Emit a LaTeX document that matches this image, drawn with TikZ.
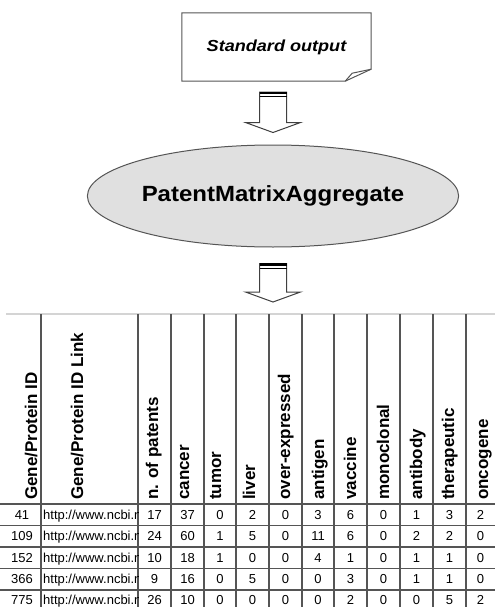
\documentclass[tikz,border=0pt]{standalone}
\usepackage{fontspec}
\setmainfont{Liberation Sans}
\usetikzlibrary{shapes.geometric,calc}
\definecolor{linegray}{RGB}{85,85,85}
\definecolor{ellfill}{RGB}{224,224,224}
\definecolor{topgray}{RGB}{212,212,212}
\tikzset{
  docline/.style={draw=linegray, line width=1pt},
  procnode/.style={ellipse, draw=linegray, line width=1pt, fill=ellfill,
    minimum width=352pt, minimum height=102pt, inner sep=0pt},
  arrowline/.style={draw=black!75, line width=1pt, fill=white},
  hdr/.style={rotate=90, anchor=west, inner sep=0pt,
    font=\fontsize{17}{20}\selectfont\bfseries, text height=12.2pt, text depth=0pt},
  cell/.style={inner sep=0pt, font=\fontsize{13}{15}\selectfont, text height=9.4pt, text depth=0pt},
  gridline/.style={draw=linegray, line width=1.8pt},
}
\newcommand\blockarrow[2]{%
  \draw[arrowline] let \p1=(#1), \p2=(#2) in
    (\x1-13.5pt,\y1) -- (\x1-13.5pt,\y2+10pt) -- (\x1-27.5pt,\y2+10pt) --
    (\x1,\y2) -- (\x1+27.5pt,\y2+10pt) -- (\x1+13.5pt,\y2+10pt) --
    (\x1+13.5pt,\y1) -- cycle;
  \draw[line width=2.2pt] let \p1=(#1) in (\x1-13.5pt,\y1-1pt) -- (\x1+13.5pt,\y1-1pt);
  \draw[line width=0.8pt] let \p1=(#1) in (\x1-13.5pt,\y1-4.5pt) -- (\x1+13.5pt,\y1-4.5pt);
}
\begin{document}
\begin{tikzpicture}[x=1pt,y=-1pt]
\useasboundingbox (0,0) rectangle (495,607);
\fill[white] (0,0) rectangle (495,607);
\clip (0,0) rectangle (495,607);

% document box with folded corner
\node[minimum width=189pt, minimum height=68pt, inner sep=0pt] (doc) at (276.5,47)
  {\scalebox{1.13}[1]{\fontsize{16}{19}\selectfont\bfseries\itshape Standard output}};
\draw[docline] (doc.north west) -- (doc.north east) -- ($(doc.south east)+(0,-12)$)
  -- ($(doc.south east)+(-26,0)$) -- (doc.south west) -- cycle;
\draw[docline] ($(doc.south east)+(-26,0)$) -- ($(doc.south east)+(-19,-8)$)
  -- ($(doc.south east)+(0,-12)$);

% process ellipse
\node[procnode] (proc) at (273,196)
  {\scalebox{1.09}[1]{\fontsize{22}{26}\selectfont\bfseries PatentMatrixAggregate}};

% table anchor
\coordinate (tabtop) at (273,314);

% block arrows
\coordinate (a1top) at ($(doc.south -| proc.center)+(0,11)$);
\coordinate (a1tip) at ($(proc.north)+(0,-12)$);
\coordinate (a2top) at ($(proc.south)+(0,16)$);
\coordinate (a2tip) at ($(tabtop)+(0,-12)$);
\blockarrow{a1top}{a1tip}
\blockarrow{a2top}{a2tip}

% table grid
\draw[draw=topgray, line width=1.5pt] (6,314) -- (495,314);
\foreach \xx in {41,138,171,204,236,269,302,334,367,400,433,466}
  \draw[gridline] (\xx,314) -- (\xx,607);
\foreach \yy in {504,525.5,547,568.5,590}
  \draw[gridline] (0,\yy) -- (495,\yy);

% headers
\node[hdr] (h1) at (31,500) {Gene/Protein ID};
\node[hdr] (h2) at (77,500) {Gene/Protein ID Link};
\node[hdr] (h3) at (152,500) {n. of patents};
\node[hdr] (h4) at (183,500) {cancer};
\node[hdr] (h5) at (215,500) {tumor};
\node[hdr] (h6) at (249,500) {liver};
\node[hdr] (h7) at (284,500) {over-expressed};
\node[hdr] (h8) at (318,500) {antigen};
\node[hdr] (h9) at (350,500) {vaccine};
\node[hdr] (h10) at (383,500) {monoclonal};
\node[hdr] (h11) at (416,500) {antibody};
\node[hdr] (h12) at (448,500) {therapeutic};
\node[hdr] (h13) at (482,500) {oncogene};

% data rows
\foreach \yy/\id/\rest [count=\r] in {
  514.5/41/{17,37,0,2,0,3,6,0,1,3,2},
  536/109/{24,60,1,5,0,11,6,0,2,2,0},
  557.5/152/{10,18,1,0,0,4,1,0,1,1,0},
  579/366/{9,16,0,5,0,0,3,0,1,1,0},
  599.5/775/{26,10,0,0,0,0,2,0,0,5,2}} {
  \node[cell] (id\r) at (22,\yy) {\id};
  \begin{scope}
    \clip (41,\yy-11) rectangle (138,\yy+12);
    \node[cell, anchor=west] (link\r) at (43,\yy) {http://www.ncbi.n};
  \end{scope}
  \foreach \v [count=\c] in \rest {
    \pgfmathsetmacro\xx{{154.5,187.5,220,252.5,285.5,318,350.5,383.5,416.5,449.5,480.5}[\c-1]}
    \node[cell] (v\r-\c) at (\xx,\yy) {\v};
  }
}
\end{tikzpicture}
\end{document}
